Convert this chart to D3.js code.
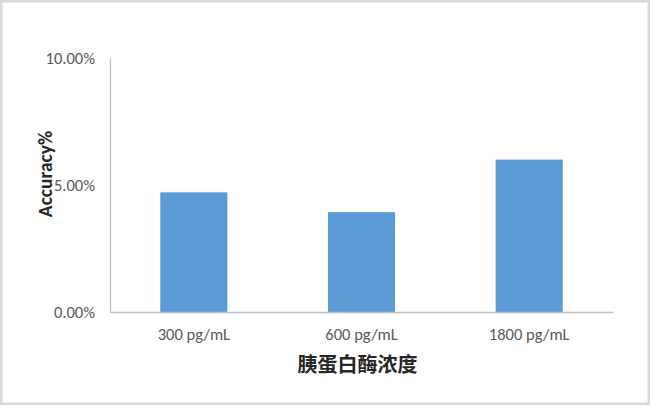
<!DOCTYPE html>
<html><head><meta charset="utf-8">
<script src="https://cdn.jsdelivr.net/npm/d3@7"></script>
<style>body{margin:0;background:#fff}svg{display:block}</style>
</head><body>
<script>
const categories = ["300 pg/mL", "600 pg/mL", "1800 pg/mL"];
const values = [0.0471, 0.0393, 0.0600];
const yTicks = [0, 0.05, 0.10];
const xTitle = "胰蛋白酶浓度";
const yTitle = "Accuracy%";

(function(){
const W = 650, H = 405;
const svg = d3.select("body").append("svg").attr("width", W).attr("height", H);
svg.append("rect").attr("x",1.25).attr("y",1.25).attr("width",W-2.5).attr("height",H-2.5)
  .attr("fill","#fff").attr("stroke","#d9d9d9").attr("stroke-width",2.5);

const mL = 110, mR = 613, mT = 58, mB = 312;
const x = d3.scaleBand().domain(categories).range([mL, mR]).paddingInner(0.6).paddingOuter(0.3);
const y = d3.scaleLinear().domain([0, 0.10]).range([mB, mT]);

const font = "Carlito, Calibri, 'Open Sans', sans-serif";

svg.selectAll("rect.bar").data(values).join("rect").attr("class","bar")
  .attr("x",(d,i)=>x(categories[i])).attr("width",x.bandwidth())
  .attr("y",d=>y(d)).attr("height",d=>y(0)-y(d)).attr("fill","#5b9bd5");

const yAxis = svg.append("g").attr("transform",`translate(${mL},0)`)
  .call(d3.axisLeft(y).tickValues(yTicks).tickSize(0).tickPadding(15).tickFormat(d3.format(".2%")));
yAxis.select(".domain").attr("stroke","#bfbfbf").attr("stroke-width",1.3);
yAxis.selectAll("text").attr("fill","#595959").style("font-family",font).style("font-size","16.5px");

const xAxis = svg.append("g").attr("transform",`translate(0,${mB})`)
  .call(d3.axisBottom(x).tickSize(0).tickPadding(16));
xAxis.select(".domain").attr("stroke","#bfbfbf").attr("stroke-width",1.3);
xAxis.selectAll("text").attr("fill","#595959").style("font-family",font).style("font-size","16.5px");

svg.append("text").attr("x",(mL+mR)/2 - 4).attr("y",372).attr("text-anchor","middle")
  .style("font-family","'Noto Sans CJK SC', sans-serif").style("font-weight","bold").style("font-size","20px")
  .attr("fill","#262626").text(xTitle);

svg.append("text").attr("transform","translate(52,174) rotate(-90)").attr("text-anchor","middle")
  .style("font-family",font).style("font-weight","bold").style("font-size","19.5px")
  .attr("fill","#262626").text(yTitle);
})();
</script>
</body></html>
